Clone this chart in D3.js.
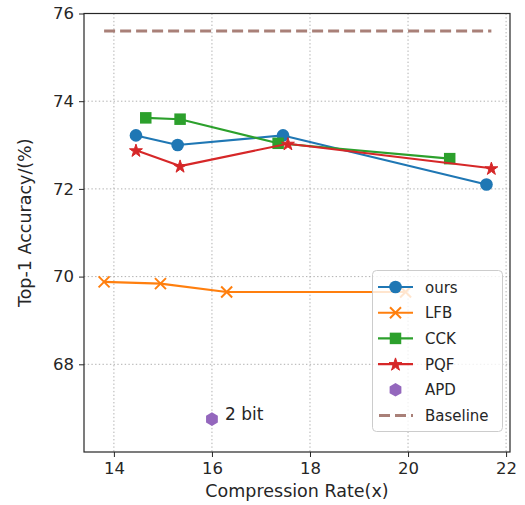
<!DOCTYPE html>
<html><head><meta charset="utf-8">
<script src="https://cdn.jsdelivr.net/npm/d3@7"></script>
<style>
html,body{margin:0;padding:0;background:#fff;}
text{font-family:"DejaVu Sans",sans-serif;fill:#262626;}
</style></head>
<body>
<svg id="chart" width="525" height="505"></svg>
<script>
// ---- data ----
const oursX = [14.45, 15.3, 17.45, 21.6];
const oursY = [73.22, 73.0, 73.22, 72.1];
const lfbX  = [13.8, 14.95, 16.3, 19.95];
const lfbY  = [69.88, 69.84, 69.65, 69.65];
const cckX  = [14.65, 15.35, 17.35, 20.85];
const cckY  = [73.62, 73.59, 73.04, 72.69];
const pqfX  = [14.45, 15.35, 17.55, 21.7];
const pqfY  = [72.88, 72.52, 73.03, 72.47];
const apdX  = [16.0];
const apdY  = [66.75];
const apdLabel = "2 bit";
const baselineX = [13.8, 21.7];
const baselineY = [75.6, 75.6];
const xTicks = [14, 16, 18, 20, 22];
const yTicks = [68, 70, 72, 74, 76];
const seriesNames = ["ours", "LFB", "CCK", "PQF", "APD", "Baseline"];
const xLabel = "Compression Rate(x)";
const yLabel = "Top-1 Accuracy/(%)";

const colors = {ours:"#1f77b4", LFB:"#ff7f0e", CCK:"#2ca02c", PQF:"#d62728", APD:"#9467bd", Baseline:"#8c564b"};

const svg = d3.select("#chart");
const L = 84, R = 510, T = 13.5, B = 452;
const x = d3.scaleLinear().domain([13.39, 22.08]).range([L, R]);
const y = d3.scaleLinear().domain([66, 76]).range([B, T]);

// grid
const grid = svg.append("g");
grid.selectAll(".gx").data(xTicks).enter().append("line")
  .attr("x1", d => x(d)).attr("x2", d => x(d)).attr("y1", T).attr("y2", B)
  .attr("stroke", "#b0b0b0").attr("stroke-width", 1).attr("stroke-dasharray", "1.4,2.3");
grid.selectAll(".gy").data(yTicks).enter().append("line")
  .attr("y1", d => y(d)).attr("y2", d => y(d)).attr("x1", L).attr("x2", R)
  .attr("stroke", "#b0b0b0").attr("stroke-width", 1).attr("stroke-dasharray", "1.4,2.3");

// axes
const xAxis = svg.append("g").attr("transform", `translate(0,${B})`)
  .call(d3.axisBottom(x).tickValues(xTicks).tickSize(5).tickPadding(5).tickFormat(d3.format("d")));
const yAxis = svg.append("g").attr("transform", `translate(${L},0)`)
  .call(d3.axisLeft(y).tickValues(yTicks).tickSize(5).tickPadding(5).tickFormat(d3.format("d")));
[xAxis, yAxis].forEach(g => {
  g.select(".domain").remove();
  g.selectAll("line").attr("stroke", "#262626").attr("stroke-width", 1);
  g.selectAll("text").attr("font-family", "DejaVu Sans").attr("font-size", 16.5).attr("fill", "#262626");
});
svg.append("rect").attr("x", L).attr("y", T).attr("width", R - L).attr("height", B - T)
  .attr("fill", "none").attr("stroke", "#262626").attr("stroke-width", 1.2);

// axis labels
svg.append("text").attr("x", (L + R) / 2).attr("y", 497).attr("text-anchor", "middle")
  .attr("font-size", 17.5).text(xLabel);
svg.append("text").attr("transform", `translate(31,${(T + B) / 2 - 10}) rotate(-90)`)
  .attr("text-anchor", "middle").attr("font-size", 17.5).text(yLabel);

// markers
function marker(g, type, cx, cy, color, s) {
  s = s || 1;
  if (type === "circle") {
    g.append("circle").attr("cx", cx).attr("cy", cy).attr("r", 6.3 * s).attr("fill", color);
  } else if (type === "square") {
    const a = 11.5 * s;
    g.append("rect").attr("x", cx - a / 2).attr("y", cy - a / 2).attr("width", a).attr("height", a).attr("fill", color);
  } else if (type === "star") {
    g.append("path").attr("d", d3.symbol().type(d3.symbolStar).size(52 * s * s)())
      .attr("transform", `translate(${cx},${cy + 0.6})`).attr("fill", color).attr("stroke", color).attr("stroke-width", 1);
  } else if (type === "x") {
    const r = 5.5 * s;
    g.append("path").attr("d", `M${cx - r},${cy - r}L${cx + r},${cy + r}M${cx - r},${cy + r}L${cx + r},${cy - r}`)
      .attr("stroke", color).attr("stroke-width", 2).attr("fill", "none");
  } else if (type === "hex") {
    const r = 6.8 * s;
    const pts = d3.range(6).map(i => {
      const a = Math.PI / 2 + i * Math.PI / 3;
      return [cx + r * Math.cos(a), cy + r * Math.sin(a)];
    });
    g.append("path").attr("d", "M" + pts.map(p => p.join(",")).join("L") + "Z").attr("fill", color);
  }
}

const line = d3.line().x(d => x(d[0])).y(d => y(d[1]));
const series = [
  {name: "ours", xs: oursX, ys: oursY, m: "circle"},
  {name: "LFB", xs: lfbX, ys: lfbY, m: "x"},
  {name: "CCK", xs: cckX, ys: cckY, m: "square"},
  {name: "PQF", xs: pqfX, ys: pqfY, m: "star"}
];
const plot = svg.append("g");
series.forEach(s => {
  const pts = s.xs.map((v, i) => [v, s.ys[i]]);
  const g = plot.append("g");
  g.append("path").attr("d", line(pts)).attr("fill", "none").attr("stroke", colors[s.name])
    .attr("stroke-width", 2.1).attr("stroke-linejoin", "round");
  pts.forEach(p => marker(g, s.m, x(p[0]), y(p[1]), colors[s.name]));
});
// APD
apdX.forEach((v, i) => marker(plot, "hex", x(v), y(apdY[i]), colors.APD));
svg.append("text").attr("x", x(apdX[0]) + 13).attr("y", y(apdY[0]) + 1).attr("font-size", 17).text(apdLabel);
// Baseline
plot.append("path").attr("d", line(baselineX.map((v, i) => [v, baselineY[i]])))
  .attr("stroke", colors.Baseline).attr("stroke-opacity", 0.75).attr("stroke-width", 3)
  .attr("stroke-dasharray", "11,5").attr("fill", "none");

// legend
const lg = svg.append("g");
lg.append("rect").attr("x", 372.5).attr("y", 270.5).attr("width", 130).attr("height", 161).attr("rx", 4)
  .attr("fill", "#fff").attr("fill-opacity", 0.8).attr("stroke", "#cccccc").attr("stroke-width", 1);
const legendTypes = ["circle", "x", "square", "star", "hex", "dash"];
seriesNames.forEach((n, i) => {
  const cy = 287 + i * 25.7;
  const c = colors[n];
  if (legendTypes[i] === "dash") {
    lg.append("line").attr("x1", 379).attr("x2", 413).attr("y1", cy).attr("y2", cy)
      .attr("stroke", c).attr("stroke-opacity", 0.75).attr("stroke-width", 3).attr("stroke-dasharray", "11,5");
  } else {
    if (legendTypes[i] !== "hex") {
      lg.append("line").attr("x1", 378).attr("x2", 413).attr("y1", cy).attr("y2", cy)
        .attr("stroke", c).attr("stroke-width", 2.1);
    }
    marker(lg, legendTypes[i], 395.5, cy, c);
  }
  lg.append("text").attr("x", 425).attr("y", cy + 5.5).attr("font-size", 15).text(n);
});
</script>
</body></html>
